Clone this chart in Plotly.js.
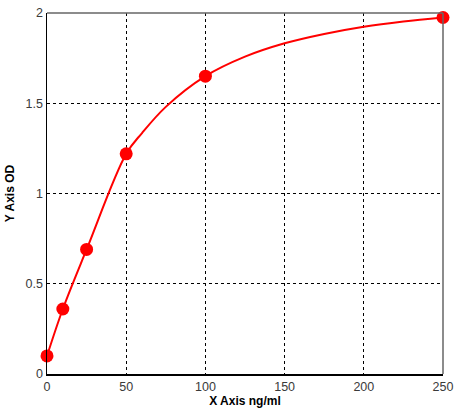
<!DOCTYPE html>
<html>
<head>
<meta charset="utf-8">
<script src="https://cdn.plot.ly/plotly-3.0.1.min.js"></script>
<style>html,body{margin:0;padding:0;background:#fff;}#chart{width:476px;height:420px;}</style>
</head>
<body>
<div id="chart"></div>
<script>
// Measured standard points
const pointX = [0, 10, 25, 50, 100, 250];
const pointY = [0.1, 0.36, 0.69, 1.22, 1.65, 1.975];
// Fitted curve
const curveX = [0, 10, 25, 50, 60, 75, 100, 125, 150, 175, 200, 225, 250];
const curveY = [0.1, 0.36, 0.69, 1.22, 1.335, 1.48, 1.65, 1.758, 1.832, 1.884, 1.924, 1.953, 1.975];
// Axis ticks
const xTicks = [0, 50, 100, 150, 200, 250];
const yTicks = [0, 0.5, 1, 1.5, 2];
const yTickText = ['0', '0.5', '1', '1.5', '2'];

const traces = [
  {x: curveX, y: curveY, mode: 'lines', line: {color: '#ff0000', width: 2, shape: 'spline', smoothing: 1}, hoverinfo: 'skip', cliponaxis: false},
  {x: pointX, y: pointY, mode: 'markers', marker: {color: '#ff0000', size: 13, symbol: 'circle'}, cliponaxis: false}
];

const layout = {
  width: 476, height: 420,
  margin: {l: 47, r: 33, t: 13, b: 46},
  paper_bgcolor: '#ffffff', plot_bgcolor: '#ffffff',
  showlegend: false,
  font: {family: 'Liberation Sans, Arial, sans-serif', size: 12.5, color: '#3a3a3a'},
  xaxis: {
    range: [0, 250], tickvals: xTicks, ticktext: xTicks.map(String),
    showgrid: true, gridcolor: '#000000', griddash: '3px,3px', gridwidth: 1,
    showline: true, linecolor: '#000000', linewidth: 1.5, zeroline: false,
    ticks: '', ticklen: 0, fixedrange: true,
    title: {text: 'X Axis ng/ml', font: {family: 'Liberation Sans, Arial, sans-serif', size: 12, color: '#000000', weight: 'bold'}, standoff: 4}
  },
  yaxis: {
    range: [0, 2], tickvals: yTicks, ticktext: yTickText,
    showgrid: true, gridcolor: '#000000', griddash: '3px,3px', gridwidth: 1,
    showline: true, linecolor: '#000000', linewidth: 1.5, zeroline: false,
    ticks: '', ticklen: 0, fixedrange: true,
    title: {text: 'Y Axis OD', font: {family: 'Liberation Sans, Arial, sans-serif', size: 12, color: '#000000', weight: 'bold'}, standoff: 8}
  },
  shapes: [
    {type: 'line', xref: 'paper', yref: 'paper', x0: 0, x1: 1, y0: 1, y1: 1, line: {color: '#666666', width: 1.5}},
    {type: 'line', xref: 'paper', yref: 'paper', x0: 1, x1: 1, y0: 0, y1: 1, line: {color: '#666666', width: 1.5}}
  ]
};

Plotly.newPlot('chart', traces, layout, {displayModeBar: false, staticPlot: true});
</script>
</body>
</html>
